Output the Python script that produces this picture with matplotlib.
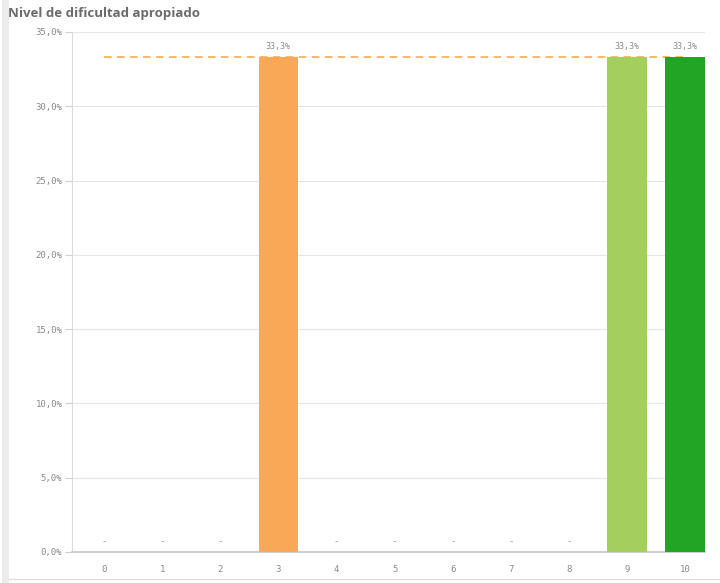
import matplotlib
matplotlib.use("Agg")
import matplotlib.pyplot as plt
import matplotlib.ticker as mticker
from matplotlib.lines import Line2D
from matplotlib.patches import Rectangle

# -- Data ----------------------------------------------------------------------
levels = list(range(11))
pct = [0, 0, 0, 33.3, 0, 0, 0, 0, 0, 33.3, 33.3]
bar_colors = ["#cccccc", "#cccccc", "#cccccc", "#f9a857", "#cccccc", "#cccccc",
              "#cccccc", "#cccccc", "#cccccc", "#a4cf5c", "#22a524"]
ref_value = 33.3
y_ticks = [0, 5, 10, 15, 20, 25, 30, 35]

TEXT_GREY = "#8a8a8a"
MONO = "DejaVu Sans Mono"


def pct_label(v):
    return f"{v:.1f}%".replace(".", ",")


fig = plt.figure(figsize=(7.2, 5.83), dpi=100)
ax = fig.add_axes([72 / 720, 31 / 583, 633 / 720, 520 / 583])

# panel decoration (left grey strip + bottom border)
fig.patches.append(Rectangle((2 / 720, 0), 7 / 720, 1, transform=fig.transFigure,
                             facecolor="#ececec", edgecolor="none"))
fig.add_artist(Line2D([9 / 720, 1], [4 / 583, 4 / 583], color="#dcdcdc", lw=1))

# dashed reference line behind bars
ax.plot([levels[0], levels[-1]], [ref_value, ref_value], color="#f5a742",
        lw=1.1, ls=(0, (5, 3.5)), zorder=2)

bars = ax.bar(levels, pct, width=0.68, color=bar_colors, zorder=3)

for lv, v in zip(levels, pct):
    if v > 0:
        ax.text(lv, v + 0.45, pct_label(v), ha="center", va="bottom",
                fontsize=6, family=MONO, color=TEXT_GREY)
    else:
        ax.text(lv, 0.4, "-", ha="center", va="bottom",
                fontsize=6.5, family=MONO, color="#9a9a9a")

ax.set_xlim(-0.55, 10.34)
ax.set_ylim(0, 35)
ax.set_xticks(levels)
ax.set_xticklabels([str(l) for l in levels], family=MONO, fontsize=6.5,
                   color=TEXT_GREY)
ax.set_yticks(y_ticks)
ax.yaxis.set_major_formatter(mticker.FuncFormatter(lambda v, _: pct_label(v)))
for lab in ax.get_yticklabels():
    lab.set_family(MONO)
    lab.set_fontsize(6.5)
    lab.set_color(TEXT_GREY)

ax.tick_params(axis="x", length=0, pad=9)
ax.tick_params(axis="y", length=5, color="#cfcfcf", pad=2)

ax.yaxis.grid(True, color="#e6e6e6", lw=0.8, zorder=0)
ax.set_axisbelow(True)
for side in ("top", "right"):
    ax.spines[side].set_visible(False)
ax.spines["left"].set_color("#dcdcdc")
ax.spines["bottom"].set_color("#c8c8c8")
ax.spines["bottom"].set_linewidth(1.2)

fig.text(8 / 720, 1 - 14 / 583, "Nivel de dificultad apropiado", ha="left",
         va="center", fontsize=9.5, fontweight="bold", family="Open Sans",
         color="#6b6b6b")

fig.savefig("out.png", dpi=100)
